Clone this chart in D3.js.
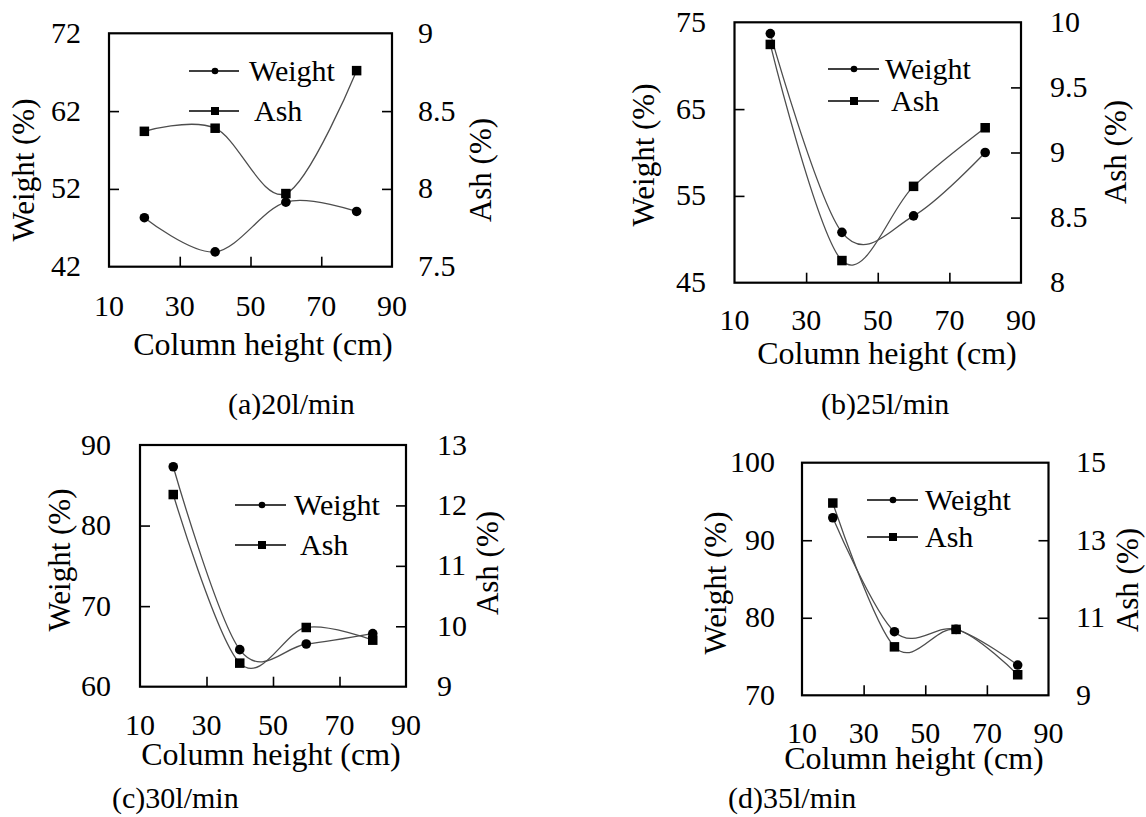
<!DOCTYPE html>
<html>
<head>
<meta charset="utf-8">
<script src="https://cdn.jsdelivr.net/npm/d3@7"></script>
<style>
  html, body { margin: 0; padding: 0; background: #fff; }
  svg { display: block; }
  text { font-family: "Liberation Serif", "Times New Roman", serif; fill: #000; }
</style>
</head>
<body>
<svg id="chart" width="1146" height="817" font-family="Liberation Serif"></svg>
<script>
// ---------- data ----------
const columnHeights = [20, 40, 60, 80];
const xTickValues = [10, 30, 50, 70, 90];

const weightA = [48.3, 43.9, 50.3, 49.1];
const ashA    = [8.37, 8.39, 7.97, 8.76];
const weightB = [73.7, 50.8, 52.7, 60.0];
const ashB    = [9.83, 8.17, 8.74, 9.19];
const weightC = [87.3, 64.6, 65.3, 66.6];
const ashC    = [12.18, 9.39, 9.98, 9.77];
const weightD = [92.9, 78.2, 78.5, 73.9];
const ashD    = [13.96, 10.25, 10.70, 9.53];

const weightTicksA = [42, 52, 62, 72];
const ashTicksA    = [7.5, 8, 8.5, 9];
const weightTicksB = [45, 55, 65, 75];
const ashTicksB    = [8, 8.5, 9, 9.5, 10];
const weightTicksC = [60, 70, 80, 90];
const ashTicksC    = [9, 10, 11, 12, 13];
const weightTicksD = [70, 80, 90, 100];
const ashTicksD    = [9, 11, 13, 15];

const captions = ["(a)20l/min", "(b)25l/min", "(c)30l/min", "(d)35l/min"];
const seriesNames = ["Weight", "Ash"];
const xTitle = "Column height (cm)";
const yTitleLeft = "Weight (%)";
const yTitleRight = "Ash (%)";

// ---------- layout ----------
const FONT = "Liberation Serif";
const panels = [
  { w: weightA, a: ashA, wt: weightTicksA, at: ashTicksA, cap: captions[0],
    L: 109, R: 392, T: 33.3, B: 266.7,
    leg: { x0: 189, x1: 239, m: 215, tw: 249, ta: 254, y1: 71, y2: 111 },
    xtBase: 316, xtitle: { x: 263, y: 355 }, ltitle: { x: 25, y: 170 }, rtitle: { x: 482, y: 170 },
    lLab: 81, rLab: 418, capPos: { x: 228, y: 414 } },
  { w: weightB, a: ashB, wt: weightTicksB, at: ashTicksB, cap: captions[1],
    L: 734.5, R: 1021, T: 22.3, B: 282.7,
    leg: { x0: 828, x1: 879, m: 854, tw: 885, ta: 891, y1: 69, y2: 101 },
    xtBase: 330, xtitle: { x: 887, y: 364 }, ltitle: { x: 645, y: 155 }, rtitle: { x: 1117, y: 152 },
    lLab: 706, rLab: 1050, capPos: { x: 821, y: 414 } },
  { w: weightC, a: ashC, wt: weightTicksC, at: ashTicksC, cap: captions[2],
    L: 140, R: 406, T: 445, B: 686.7,
    leg: { x0: 235, x1: 286, m: 262, tw: 294, ta: 300, y1: 505, y2: 545 },
    xtBase: 735, xtitle: { x: 271, y: 765 }, ltitle: { x: 61, y: 560 }, rtitle: { x: 489, y: 563 },
    lLab: 111, rLab: 437, capPos: { x: 112, y: 808 } },
  { w: weightD, a: ashD, wt: weightTicksD, at: ashTicksD, cap: captions[3],
    L: 802, R: 1048.5, T: 462.7, B: 695.3,
    leg: { x0: 867, x1: 918, m: 893, tw: 925, ta: 925, y1: 500, y2: 537 },
    xtBase: 743, xtitle: { x: 914, y: 769 }, ltitle: { x: 717, y: 583 }, rtitle: { x: 1129, y: 580 },
    lLab: 775, rLab: 1076, capPos: { x: 728, y: 808 } }
];

const svg = d3.select("#chart");
const lineColor = "#4d4d4d";
const TICK = 10;

function txt(sel, size) {
  return sel.append("text").attr("font-family", FONT).attr("font-size", size).attr("fill", "#000");
}

panels.forEach(p => {
  const g = svg.append("g");
  const x = d3.scaleLinear().domain([10, 90]).range([p.L, p.R]);
  const yW = d3.scaleLinear().domain([p.wt[0], p.wt[p.wt.length - 1]]).range([p.B, p.T]);
  const yA = d3.scaleLinear().domain([p.at[0], p.at[p.at.length - 1]]).range([p.B, p.T]);

  // inner ticks (inward)
  const leftAxis = d3.axisLeft(yW).tickValues(p.wt.slice(1, -1)).tickSize(-TICK).tickFormat("");
  const rightAxis = d3.axisRight(yA).tickValues(p.at.slice(1, -1)).tickSize(-TICK).tickFormat("");
  const bottomAxis = d3.axisBottom(x).tickValues(xTickValues.slice(1, -1)).tickSize(-TICK).tickFormat("");
  [[leftAxis, `translate(${p.L},0)`], [rightAxis, `translate(${p.R},0)`], [bottomAxis, `translate(0,${p.B})`]]
    .forEach(([ax, tr]) => {
      const a = g.append("g").attr("transform", tr).call(ax);
      a.select(".domain").remove();
      a.selectAll("line").attr("stroke", "#000").attr("stroke-width", 1.6);
    });

  // box
  g.append("rect").attr("x", p.L).attr("y", p.T).attr("width", p.R - p.L).attr("height", p.B - p.T)
    .attr("fill", "none").attr("stroke", "#000").attr("stroke-width", 2.2);

  // tick labels
  p.wt.forEach(d => txt(g, 30).attr("x", p.lLab).attr("y", yW(d) + 9.5).attr("text-anchor", "end").text(d));
  p.at.forEach(d => txt(g, 30).attr("x", p.rLab).attr("y", yA(d) + 9.5).attr("text-anchor", "start").text(d));
  xTickValues.forEach(d => txt(g, 30).attr("x", x(d)).attr("y", p.xtBase).attr("text-anchor", "middle").text(d));

  // titles
  txt(g, 32).attr("x", p.xtitle.x).attr("y", p.xtitle.y).attr("text-anchor", "middle").text(xTitle);
  txt(g, 31).attr("transform", `translate(${p.ltitle.x},${p.ltitle.y}) rotate(-90)`)
    .attr("dy", "0.3em").attr("text-anchor", "middle").text(yTitleLeft);
  txt(g, 31).attr("transform", `translate(${p.rtitle.x},${p.rtitle.y}) rotate(-90)`)
    .attr("dy", "0.3em").attr("text-anchor", "middle").text(yTitleRight);
  txt(g, 30).attr("x", p.capPos.x).attr("y", p.capPos.y).text(p.cap);

  // lines
  const curve = d3.curveCardinal.tension(0);
  const wPts = columnHeights.map((h, i) => [x(h), yW(p.w[i])]);
  const aPts = columnHeights.map((h, i) => [x(h), yA(p.a[i])]);
  const lineGen = d3.line().curve(curve);
  g.append("path").attr("d", lineGen(wPts)).attr("fill", "none").attr("stroke", lineColor).attr("stroke-width", 1.3);
  g.append("path").attr("d", lineGen(aPts)).attr("fill", "none").attr("stroke", lineColor).attr("stroke-width", 1.3);

  // markers
  g.selectAll(".wm").data(wPts).join("circle")
    .attr("cx", d => d[0]).attr("cy", d => d[1]).attr("r", 4.8).attr("fill", "#000");
  const S = 9.5;
  g.selectAll(".am").data(aPts).join("rect")
    .attr("x", d => d[0] - S / 2).attr("y", d => d[1] - S / 2).attr("width", S).attr("height", S).attr("fill", "#000");

  // legend
  const lg = p.leg;
  [lg.y1, lg.y2].forEach((yy, i) => {
    g.append("line").attr("x1", lg.x0).attr("x2", lg.x1).attr("y1", yy).attr("y2", yy)
      .attr("stroke", "#000").attr("stroke-width", 1.3);
    if (i === 0) g.append("circle").attr("cx", lg.m).attr("cy", yy).attr("r", 3.3).attr("fill", "#000");
    else g.append("rect").attr("x", lg.m - 4).attr("y", yy - 4).attr("width", 8).attr("height", 8).attr("fill", "#000");
    txt(g, 30).attr("x", i === 0 ? lg.tw : lg.ta).attr("y", yy + 9.5).text(seriesNames[i]);
  });
});
</script>
</body>
</html>
